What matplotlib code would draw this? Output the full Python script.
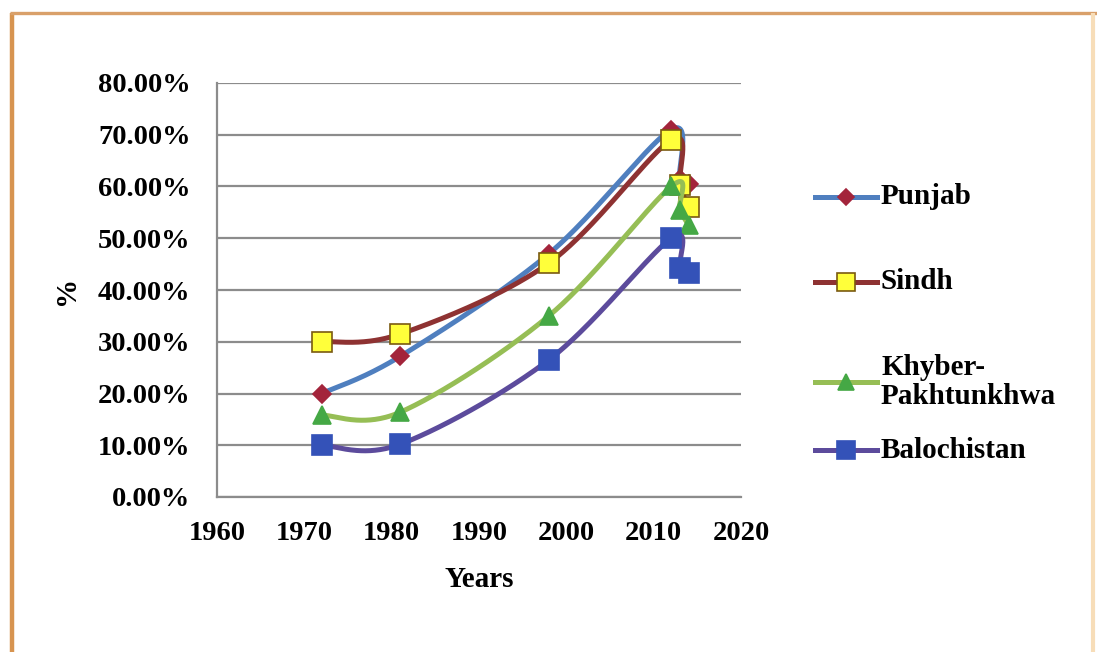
import numpy as np
import matplotlib
matplotlib.use("Agg")
import matplotlib.pyplot as plt
from matplotlib.lines import Line2D
from matplotlib.ticker import FuncFormatter

years = [1972, 1981, 1998, 2012, 2013, 2014]
punjab = [20.0, 27.2, 47.0, 71.0, 61.5, 60.5]
sindh = [30.0, 31.5, 45.2, 69.0, 60.3, 56.0]
khyber = [15.8, 16.4, 35.0, 60.0, 55.5, 52.5]
balochistan = [10.0, 10.2, 26.5, 50.0, 44.3, 43.3]

series_names = ["Punjab", "Sindh", "Khyber-\nPakhtunkhwa", "Balochistan"]

y_ticks = [0, 10, 20, 30, 40, 50, 60, 70, 80]
x_ticks = [1960, 1970, 1980, 1990, 2000, 2010, 2020]

FONT = "Liberation Serif"


def smooth(xs, ys, n=60):
    """Catmull-Rom style smoothing through every point (spreadsheet 'smoothed line')."""
    pts = np.column_stack([xs, ys]).astype(float)
    out = [pts[0]]
    for i in range(len(pts) - 1):
        p0 = pts[i - 1] if i > 0 else pts[i]
        p1, p2 = pts[i], pts[i + 1]
        p3 = pts[i + 2] if i + 2 < len(pts) else pts[i + 1]
        c1 = p1 + (p2 - p0) / 6.0
        c2 = p2 - (p3 - p1) / 6.0
        t = np.linspace(0, 1, n)[1:, None]
        seg = ((1 - t) ** 3) * p1 + 3 * ((1 - t) ** 2) * t * c1 + 3 * (1 - t) * t ** 2 * c2 + t ** 3 * p2
        out.extend(seg)
    out = np.array(out)
    return out[:, 0], out[:, 1]


styles = [
    dict(line="#4F7FBF", marker="D", mfc="#A3243B", mec="#A3243B", ms=9),
    dict(line="#8E3232", marker="s", mfc="#FFFF3A", mec="#7A5A10", ms=15),
    dict(line="#96BE55", marker="^", mfc="#45A845", mec="#45A845", ms=13),
    dict(line="#5C4B9C", marker="s", mfc="#3452B8", mec="#3452B8", ms=15),
]
data = [punjab, sindh, khyber, balochistan]

fig = plt.figure(figsize=(10.97, 6.52), dpi=100)
fig.patch.set_facecolor("white")

ax = fig.add_axes([217 / 1097, 1 - 497 / 652, (741 - 217) / 1097, (497 - 83) / 652])
ax.set_xlim(1960, 2020)
ax.set_ylim(0, 80)
ax.set_xticks(x_ticks)
ax.set_yticks(y_ticks)
ax.yaxis.set_major_formatter(FuncFormatter(lambda v, p: f"{v:.2f}%"))
ax.grid(axis="y", color="#8C8C8C", linewidth=1.6)
ax.set_axisbelow(True)
for s in ["top", "right"]:
    ax.spines[s].set_visible(False)
for s in ["left", "bottom"]:
    ax.spines[s].set_color("#8C8C8C")
    ax.spines[s].set_linewidth(1.6)
ax.tick_params(axis="y", length=0, pad=19)
ax.tick_params(axis="x", length=0, pad=17)
for lab in ax.get_xticklabels() + ax.get_yticklabels():
    lab.set_fontfamily(FONT)
    lab.set_fontweight("bold")
    lab.set_fontsize(20.5)

for k, (vals, st) in enumerate(zip(data, styles)):
    sx, sy = smooth(years, vals)
    ax.plot(sx, sy, color=st["line"], lw=3.6, solid_capstyle="round", zorder=3 + 2 * k, clip_on=False)
    ax.plot(years, vals, linestyle="none", marker=st["marker"], ms=st["ms"],
            mfc=st["mfc"], mec=st["mec"], mew=1.2, zorder=4 + 2 * k, clip_on=False)

ax.set_xlabel("Years", fontfamily=FONT, fontweight="bold", fontsize=21, labelpad=15)
ax.set_ylabel("%", fontfamily=FONT, fontweight="bold", fontsize=21, labelpad=13)

# legend drawn entry by entry
W, H = 1097.0, 652.0
legend_rows = [197, 282, 382, 450]
for (name, st, yc) in zip(series_names, styles, legend_rows):
    yf = 1 - yc / H
    fig.add_artist(Line2D([815 / W, 877 / W], [yf, yf], transform=fig.transFigure,
                          color=st["line"], lw=3.6))
    fig.add_artist(Line2D([846 / W], [yf], transform=fig.transFigure, linestyle="none",
                          marker=st["marker"], ms=st["ms"] * 0.85, mfc=st["mfc"], mec=st["mec"], mew=1.2))
    fig.text(881 / W, yf, name, fontfamily=FONT, fontweight="bold", fontsize=21,
             va="center", ha="left", linespacing=1.1)

# frame around the chart
fig.add_artist(Line2D([12 / W, 12 / W], [0.0, 1 - 13 / H], transform=fig.transFigure,
                      color="#D79450", lw=3.2, solid_capstyle="butt"))
fig.add_artist(Line2D([10 / W, 1.0], [1 - 13 / H, 1 - 13 / H], transform=fig.transFigure,
                      color="#D9A06A", lw=2.4, solid_capstyle="butt"))
fig.add_artist(Line2D([1093 / W, 1093 / W], [0.0, 1 - 13 / H], transform=fig.transFigure,
                      color="#F7DDB8", lw=3, solid_capstyle="butt"))

fig.savefig("out.png", dpi=100, facecolor="white")
